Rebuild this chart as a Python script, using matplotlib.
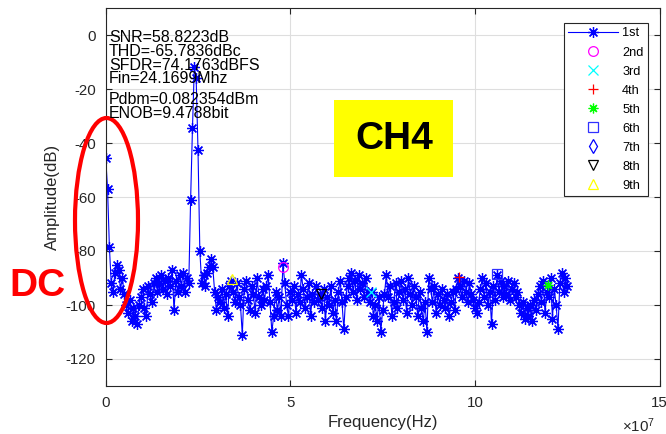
import numpy as np
import matplotlib
matplotlib.use('Agg')
import matplotlib.pyplot as plt
from matplotlib.patches import Ellipse, Rectangle

plt.rcParams['font.family'] = ['Liberation Sans', 'DejaVu Sans']
plt.rcParams['axes.unicode_minus'] = False
plt.rcParams['mathtext.fontset'] = 'custom'
plt.rcParams['mathtext.rm'] = 'Liberation Sans'

# spectrum, 0.5 MHz per bin (dB)
amp_db = [
    -45.5, -57, -78.5,
    -92, -95, -88, -85, -87, -94, -90, -96,
    -100, -103, -98, -106, -101, -104, -107, -100,
    -97, -94, -101, -104, -93, -96, -99, -92,
    -90, -95, -92, -89, -94, -91, -96, -90, -93,
    -87, -102, -91, -95, -89,
    -93, -88, -95, -90, -92,
    -61, -34.6, -12, -16, -42.6, -80,
    -92, -89, -93, -88, -86, -83,
    -86, -95, -102, -97, -99,
    -94, -101, -96, -104, -93,
    -91,
    -95, -99, -92, -97, -100, -111, -94,
    -91, -98, -102, -93, -96, -103, -90, -97, -100, -94, -98,
    -93, -89, -99, -110, -104, -95, -102, -97, -104,
    -84.5, -92,
    -100, -104, -95, -98, -93, -103, -96, -99,
    -89, -94, -101, -97, -92, -104, -96, -99, -93, -98,
    -96, -101, -94, -106, -97, -100, -93, -103, -98,
    -106, -95, -91, -99, -109,
    -97, -93, -90, -88, -95, -91, -98, -89, -94, -92, -97, -90, -95,
    -99, -95, -104, -100, -106, -97, -110, -102, -96,
    -89, -97, -93, -104, -99, -92, -101, -95,
    -91, -98, -94, -103, -90, -96, -100, -93,
    -97, -104, -95, -101, -106, -99, -110, -90,
    -94, -99, -93, -103, -96, -100, -94, -98,
    -101, -96, -104, -99, -95, -102,
    -94, -90, -93, -97, -91, -95, -99, -92, -96, -98, -101,
    -103, -99,
    -94, -90, -97, -92, -100, -95, -107, -93, -98, -89,
    -95, -91, -97, -93, -96, -91, -98, -94, -92, -97, -95,
    -100, -103, -99, -105, -101, -104, -100, -106, -98, -102, -96,
    -93, -99, -91, -103, -95, -97, -90, -105, -94, -100, -109,
    -92, -88, -95, -90, -93,
]
bin_mhz = 0.5
freq_hz = np.arange(len(amp_db)) * bin_mhz * 1e6

harm_labels = ['2nd', '3rd', '4th', '5th', '6th', '7th', '8th', '9th']
harm_mhz = [48.0, 71.9, 95.8, 119.8, 106.1, 82.2, 58.2, 34.2]
harm_db = [-86, -95, -89.8, -92.6, -88.5, -94, -96, -90.5]
harm_markers = ['o', 'x', '+', (8, 2, 0), 's', 'd', 'v', '^']
harm_colors = ['#ff00ff', '#00ffff', '#ff0000', '#00ff00', '#3030ff', '#0000ff', '#000000', '#ffff00']

info_lines = ['SNR=58.8223dB', 'THD=-65.7836dBc', 'SFDR=74.1763dBFS',
              'Fin=24.1699Mhz', 'Pdbm=0.082354dBm', 'ENOB=9.4788bit']
info_y_px = [37.5, 51.5, 65, 78.5, 100, 113.5]

W, H = 666, 434
fig = plt.figure(figsize=(W / 100, H / 100), dpi=100)
ax = fig.add_axes([105.7 / W, 1 - 386 / H, (659.5 - 105.7) / W, (386 - 8) / H])

ax.plot(freq_hz, amp_db, '-', color='#0000ff', lw=0.8, marker=(8, 2, 0),
        ms=7.8, mew=0.9, label='1st')
for f, a, m, c, lab in zip(harm_mhz, harm_db, harm_markers, harm_colors, harm_labels):
    ax.plot([f * 1e6], [a], linestyle='none', marker=m, mfc='none', mec=c,
            ms=7, mew=0.9, label=lab)

ax.set_xlim(0, 15e7)
ax.set_ylim(-130, 10)
ax.set_xticks([0, 5e7, 10e7, 15e7])
ax.set_xticklabels(['0', '5', '10', '15'])
ax.set_yticks(np.arange(-120, 1, 20))
ax.grid(True, color='#dedede', lw=0.8)
ax.set_axisbelow(True)
ax.tick_params(direction='in', length=4, top=True, right=True,
               color='#262626', labelcolor='#262626', labelsize=10.8, pad=7)
for sp in ax.spines.values():
    sp.set_color('#262626')
    sp.set_linewidth(0.8)
ax.set_xlabel('Frequency(Hz)', fontsize=12, color='#262626', labelpad=4)
ax.set_ylabel('Amplitude(dB)', fontsize=12, color='#262626', labelpad=4)

leg = ax.legend(loc='upper right', bbox_to_anchor=(648 / W, 1 - 23 / H),
                bbox_transform=fig.transFigure, fontsize=9.2, fancybox=False,
                edgecolor='#262626', framealpha=1, labelspacing=0.55,
                handlelength=3.9, handletextpad=0.3, borderpad=0.35,
                borderaxespad=0)
leg.get_frame().set_linewidth(0.8)

fig.text(638 / W, 1 - 426 / H, r'$\times\mathregular{10^{7}}$', fontsize=10.8,
         color='#262626', ha='center', va='center')

for s, y in zip(info_lines, info_y_px):
    fig.text(109 / W, 1 - y / H, s, fontsize=11.5, color='black',
             ha='left', va='center')

fig.add_artist(Rectangle((334 / W, 1 - 177 / H), 119 / W, 77 / H,
                         transform=fig.transFigure, facecolor='#ffff00',
                         edgecolor='none'))
fig.text(394 / W, 1 - 139 / H, 'CH4', fontsize=28, fontweight='bold',
         color='black', ha='center', va='center')

fig.add_artist(Ellipse((106.5 / W, 1 - 220.5 / H), 63 / W, 205 / H,
                       transform=fig.transFigure, fill=False,
                       edgecolor='#ff0000', lw=3))
fig.text(37 / W, 1 - 286 / H, 'DC', fontsize=28, fontweight='bold',
         color='#ff0000', ha='center', va='center')

fig.savefig('out.png', dpi=100)
